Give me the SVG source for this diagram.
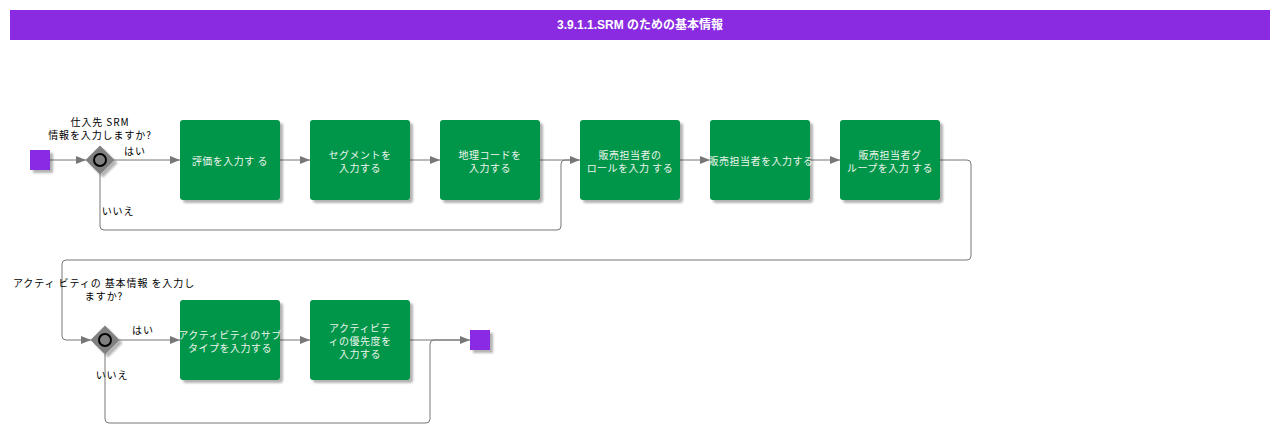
<svg xmlns="http://www.w3.org/2000/svg" width="1280" height="433" viewBox="0 0 1280 433">
<defs>
<style>
.t{font-family:"Liberation Sans","Noto Sans CJK JP",sans-serif;}
.hdr{font-family:"Liberation Sans","Noto Sans CJK JP",sans-serif;font-size:12px;font-weight:bold;fill:#ffffff;text-anchor:middle;dominant-baseline:central;}
.box{fill:#009649;filter:url(#sh);}
.bt{font-family:"Noto Sans CJK JP",sans-serif;font-size:10px;fill:#eef4ee;text-anchor:middle;dominant-baseline:central;letter-spacing:0.5px;}
.lb{font-family:"Noto Sans CJK JP",sans-serif;font-size:10px;fill:#000000;text-anchor:middle;dominant-baseline:central;letter-spacing:0.9px;}
.ev{fill:#8a2be2;filter:url(#sh);}
.gw{fill:#808080;filter:url(#sh);}
.gc{fill:#808080;stroke:#000000;stroke-width:2;}
.c{fill:none;stroke:#777777;stroke-width:1;}
.a{marker-end:url(#ar);}
</style>
<filter id="sh" x="-20%" y="-20%" width="150%" height="150%">
<feGaussianBlur in="SourceAlpha" stdDeviation="1.2"/>
<feOffset dx="3" dy="3" result="o"/>
<feComponentTransfer><feFuncA type="linear" slope="0.3"/></feComponentTransfer>
<feMerge><feMergeNode/><feMergeNode in="SourceGraphic"/></feMerge>
</filter>
<marker id="ar" markerWidth="10" markerHeight="8" refX="10" refY="4" orient="auto" markerUnits="userSpaceOnUse">
<path d="M0,0 L10,4 L0,8 Z" fill="#777777"/>
</marker>
</defs>
<rect x="0" y="0" width="1280" height="433" fill="#ffffff"/>
<g id="header">
<rect x="10" y="10" width="1260" height="30" fill="#8a2be2"/>
<text class="hdr" x="640" y="25">3.9.1.1.SRM のための基本情報</text>
</g>
<g id="connectors">
<path class="c a" d="M50,160 H86"/>
<path class="c a" d="M114,160 H180"/>
<path class="c a" d="M280,160 H310"/>
<path class="c a" d="M410,160 H440"/>
<path class="c a" d="M540,160 H580"/>
<path class="c" d="M100,174 V226 Q100,230 104,230 H557 Q561,230 561,226 V164 Q561,160 565,160 H570"/>
<path class="c a" d="M680,160 H710"/>
<path class="c a" d="M810,160 H840"/>
<path class="c a" d="M940,160 H967 Q971,160 971,164 V256 Q971,260 967,260 H66 Q62,260 62,264 V336 Q62,340 66,340 H91"/>
<path class="c a" d="M119,340 H180"/>
<path class="c a" d="M280,340 H310"/>
<path class="c a" d="M410,340 H470"/>
<path class="c" d="M105,354 V419 Q105,423 109,423 H426 Q430,423 430,419 V344 Q430,340 434,340 H460"/>
<text class="lb" x="135" y="150">はい</text>
<text class="lb" x="118" y="210">いいえ</text>
<text class="lb" x="143" y="329">はい</text>
<text class="lb" x="112" y="374">いいえ</text>
</g>
<g id="start">
<rect class="ev" x="30" y="150" width="20" height="20"/>
</g>
<g id="gw1">
<path class="gw" d="M100,145.5 L114.5,160 L100,174.5 L85.5,160 Z"/>
<circle class="gc" cx="100" cy="160" r="6"/>
<text class="lb" x="100" y="121">仕入先 SRM</text>
<text class="lb" x="100" y="134">情報を入力しますか?</text>
</g>
<g id="n1">
<rect class="box" x="180" y="120" width="100" height="80" rx="3"/>
<text class="bt" x="230" y="160">評価を入力す る</text>
</g>
<g id="n2">
<rect class="box" x="310" y="120" width="100" height="80" rx="3"/>
<text class="bt" x="360" y="154">セグメントを</text>
<text class="bt" x="360" y="167">入力する</text>
</g>
<g id="n3">
<rect class="box" x="440" y="120" width="100" height="80" rx="3"/>
<text class="bt" x="490" y="154">地理コードを</text>
<text class="bt" x="490" y="167">入力する</text>
</g>
<g id="n4">
<rect class="box" x="580" y="120" width="100" height="80" rx="3"/>
<text class="bt" x="630" y="154">販売担当者の</text>
<text class="bt" x="630" y="167">ロールを入力 する</text>
</g>
<g id="n5">
<rect class="box" x="710" y="120" width="100" height="80" rx="3"/>
<text class="bt" x="761" y="160">販売担当者を入力する</text>
</g>
<g id="n6">
<rect class="box" x="840" y="120" width="100" height="80" rx="3"/>
<text class="bt" x="890" y="154">販売担当者グ</text>
<text class="bt" x="890" y="167">ループを入力 する</text>
</g>
<g id="gw2">
<path class="gw" d="M105,325.5 L119.5,340 L105,354.5 L90.5,340 Z"/>
<circle class="gc" cx="105" cy="340" r="6"/>
<text class="lb" x="104" y="282">アクティ ビティの 基本情報 を入力し</text>
<text class="lb" x="104" y="295">ますか?</text>
</g>
<g id="n7">
<rect class="box" x="180" y="300" width="100" height="80" rx="3"/>
<text class="bt" x="230" y="334">アクティビティのサブ</text>
<text class="bt" x="230" y="347">タイプを入力する</text>
</g>
<g id="n8">
<rect class="box" x="310" y="300" width="100" height="80" rx="3"/>
<text class="bt" x="360" y="327">アクティビテ</text>
<text class="bt" x="360" y="340">ィの優先度を</text>
<text class="bt" x="360" y="353">入力する</text>
</g>
<g id="end">
<rect class="ev" x="470" y="330" width="20" height="20"/>
</g>
</svg>
